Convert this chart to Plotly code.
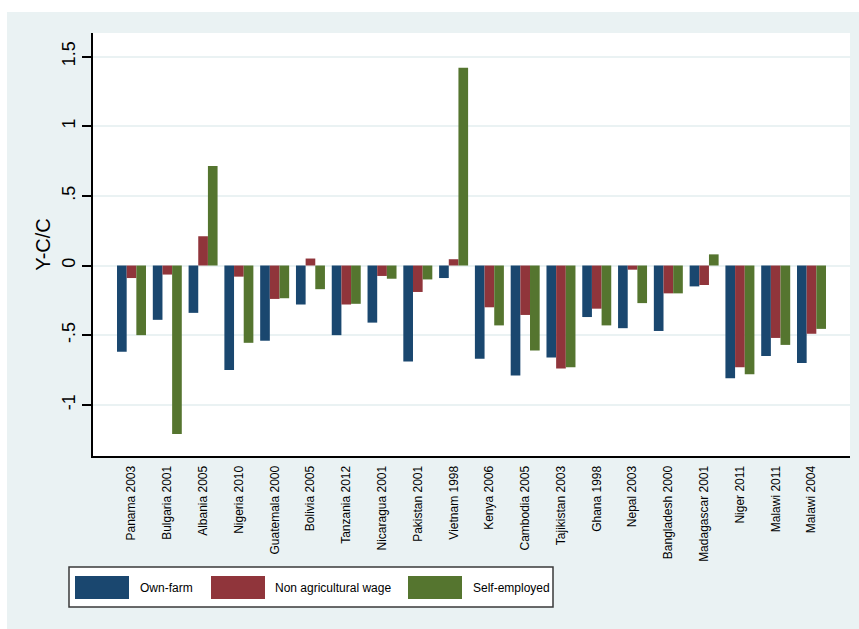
import plotly.graph_objects as go

# Survey samples (country, year)
countries = [
    "Panama 2003", "Bulgaria 2001", "Albania 2005", "Nigeria 2010", "Guatemala 2000",
    "Bolivia 2005", "Tanzania 2012", "Nicaragua 2001", "Pakistan 2001", "Vietnam 1998",
    "Kenya 2006", "Cambodia 2005", "Tajikistan 2003", "Ghana 1998", "Nepal 2003",
    "Bangladesh 2000", "Madagascar 2001", "Niger 2011", "Malawi 2011", "Malawi 2004",
]

# (Y-C)/C by main income source
own_farm = [-0.62, -0.39, -0.34, -0.75, -0.54, -0.28, -0.50, -0.41, -0.69, -0.09,
            -0.67, -0.79, -0.66, -0.37, -0.45, -0.47, -0.15, -0.81, -0.65, -0.70]
non_ag_wage = [-0.09, -0.065, 0.21, -0.08, -0.24, 0.05, -0.28, -0.075, -0.19, 0.045,
               -0.30, -0.355, -0.74, -0.31, -0.03, -0.20, -0.14, -0.73, -0.52, -0.49]
self_employed = [-0.50, -1.21, 0.715, -0.555, -0.235, -0.17, -0.275, -0.095, -0.10, 1.42,
                 -0.43, -0.61, -0.73, -0.43, -0.27, -0.20, 0.08, -0.78, -0.57, -0.455]

series_names = ["Own-farm", "Non agricultural wage", "Self-employed"]
series_values = [own_farm, non_ag_wage, self_employed]
series_colors = ["#1A476F", "#90353B", "#55752F"]

y_tickvals = [-1, -0.5, 0, 0.5, 1, 1.5]
y_ticktext = ["-1", "-.5", "0", ".5", "1", "1.5"]

FONT = "Liberation Sans, Arial, Helvetica, sans-serif"
BG = "#EAF2F3"

# plot-area geometry in pixels
W, H = 859, 629
L, R, T, B = 93, 850, 33, 456


def px(x):
    return (x - L) / (R - L)


def py(y):
    return (B - y) / (B - T)


idx = list(range(len(countries)))

fig = go.Figure()
for name, vals, col in zip(series_names, series_values, series_colors):
    fig.add_trace(go.Bar(
        x=idx, y=vals, name=name,
        marker=dict(color=col, line=dict(width=0)),
        showlegend=False,
    ))

shapes = []
annotations = []

# white page border round the grey graph region
shapes.append(dict(type="rect", xref="paper", yref="paper", layer="below",
                   x0=px(0), x1=px(W), y0=py(12), y1=py(0),
                   fillcolor="white", line=dict(width=0)))
shapes.append(dict(type="rect", xref="paper", yref="paper", layer="below",
                   x0=px(0), x1=px(7), y0=py(H), y1=py(0),
                   fillcolor="white", line=dict(width=0)))

# legend box with wide colour keys
shapes.append(dict(type="rect", xref="paper", yref="paper", layer="above",
                   x0=px(69), x1=px(553), y0=py(607), y1=py(567),
                   fillcolor="white", line=dict(color="#3a3a3a", width=1.5)))
key_x = [75, 211, 408]
text_x = [138, 273, 471]
for kx, tx, name, col in zip(key_x, text_x, series_names, series_colors):
    shapes.append(dict(type="rect", xref="paper", yref="paper", layer="above",
                       x0=px(kx), x1=px(kx + 54), y0=py(599), y1=py(576),
                       fillcolor=col, line=dict(width=0)))
    annotations.append(dict(xref="paper", yref="paper", x=px(tx), y=py(587.5),
                            xanchor="left", yanchor="middle", showarrow=False,
                            text=name, font=dict(family=FONT, size=12, color="black")))

fig.update_layout(
    width=W, height=H,
    margin=dict(l=L, r=W - R, t=T, b=H - B, pad=0),
    paper_bgcolor=BG, plot_bgcolor="white",
    barmode="group", bargap=0.19, bargroupgap=0,
    showlegend=False,
    shapes=shapes, annotations=annotations,
    font=dict(family=FONT, color="black"),
)

fig.update_xaxes(
    range=[-1.076, 20.076],
    tickmode="array", tickvals=idx, ticktext=countries,
    tickangle=-90, tickfont=dict(family=FONT, size=12, color="black"),
    ticks="", ticklabelstandoff=3,
    showgrid=False, zeroline=False,
    showline=True, linecolor="black", linewidth=2,
)

fig.update_yaxes(
    range=[-1.3675, 1.669],
    tickmode="array", tickvals=y_tickvals, ticktext=y_ticktext,
    tickangle=-90, tickfont=dict(family=FONT, size=18, color="black"),
    ticks="outside", ticklen=9, tickwidth=2, tickcolor="black",
    showgrid=True, gridcolor=BG, gridwidth=2,
    zeroline=False,
    showline=True, linecolor="black", linewidth=2,
    title=dict(text="Y-C/C", font=dict(family=FONT, size=20, color="black"), standoff=3),
)

fig.write_html("out.html")
